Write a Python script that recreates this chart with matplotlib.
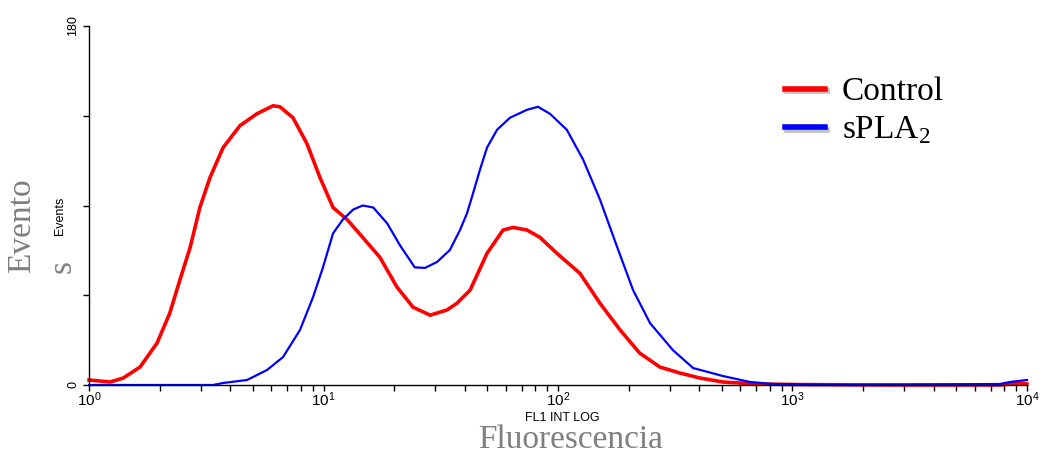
import numpy as np
import matplotlib
matplotlib.use("Agg")
import matplotlib.pyplot as plt
import matplotlib.patheffects as pe
from matplotlib.ticker import FixedLocator, NullFormatter

plt.rcParams['mathtext.fontset'] = 'custom'
plt.rcParams['mathtext.rm'] = 'Liberation Serif'
plt.rcParams['mathtext.sf'] = 'Liberation Sans'

# Control histogram (FL1 channel value, events)
control_x = [1.0, 1.23, 1.40, 1.65, 1.95, 2.21, 2.44, 2.70, 2.97, 3.28, 3.73, 4.40,
             5.20, 6.09, 6.52, 7.41, 8.50, 9.66, 10.98, 12.6, 14.7, 17.4, 20.6, 24.1,
             28.5, 33.6, 37.1, 42.2, 49.8, 58.3, 64.3, 73.8, 83.8, 99.0, 124, 151, 184,
             223, 272, 331, 403, 505, 706, 1077, 2870, 7670, 8470, 9340, 10000]
control_y = [2.5, 1.5, 3.5, 9, 21, 36, 52.6, 69, 89, 104, 119, 130,
             136, 140, 139.5, 134, 121, 104, 89, 83, 74, 64, 49, 39,
             35, 37.6, 41, 47.6, 66, 77.7, 79, 77.7, 74, 66, 56, 41, 27.6,
             16, 9, 6, 3.5, 1.5, 0.5, 0.2, 0, 0, 0.5, 1, 0.5]

# sPLA2 histogram
spla_x = [1.0, 3.38, 3.73, 4.72, 5.74, 6.72, 7.94, 9.02, 9.95, 10.98, 12.1, 13.4,
          14.7, 16.3, 18.7, 21.2, 24.5, 27.1, 30.5, 34.6, 38.2, 40.9, 43.4, 46.5,
          49.8, 55.0, 62.4, 73.8, 82.2, 92.4, 109, 128, 151, 179, 209, 247, 309,
          377, 505, 659, 826, 1760, 7670, 8470, 9160, 10000]
spla_y = [0, 0, 1, 2.5, 7.5, 14, 27.6, 44, 59, 76, 83, 88,
          90, 89, 81, 70, 59, 58.7, 61.7, 67.7, 77.7, 86, 96, 108,
          119, 128, 134, 138, 139.5, 136, 128, 113, 93, 69, 47.6, 31, 17.5,
          8.5, 4.5, 1.5, 0.5, 0, 0.5, 1.5, 2, 2.5]

labels = ['Control', r'sPLA$_2$']
xtick_vals = [1, 10, 100, 1000, 10000]
xtick_labels = [r'$\mathsf{10^{0}}$', r'$\mathsf{10^{1}}$', r'$\mathsf{10^{2}}$',
                r'$\mathsf{10^{3}}$', r'$\mathsf{10^{4}}$']
ytick_vals = [0, 45, 90, 135, 180]
ytick_labels = ['0', '', '', '', '180']

fig = plt.figure(figsize=(10.46, 4.54), dpi=100)
ax = fig.add_axes([0.0851, 0.152, 0.8967, 0.7907])

shadow = [pe.SimpleLineShadow(offset=(1.5, -2), shadow_color='gray', alpha=0.5), pe.Normal()]
ax.plot(control_x, control_y, color='#ff0000', lw=2.6, clip_on=False, label=labels[0])
ax.plot(spla_x, spla_y, color='#0000ff', lw=1.6, clip_on=False, label=labels[1])

ax.set_xscale('log')
ax.set_xlim(1, 10000)
ax.set_ylim(0, 180)

for s in ['top', 'right']:
    ax.spines[s].set_visible(False)
for s in ['left', 'bottom']:
    ax.spines[s].set_linewidth(1.0)

ax.xaxis.set_major_locator(FixedLocator(xtick_vals))
ax.set_xticklabels(xtick_labels)
ax.xaxis.set_minor_locator(FixedLocator([m * d for d in [1, 10, 100, 1000] for m in range(2, 10)]))
ax.xaxis.set_minor_formatter(NullFormatter())
ax.tick_params(axis='x', which='both', direction='out', length=4, width=1, labelsize=11, pad=0)
ax.set_yticks(ytick_vals)
ax.set_yticklabels(ytick_labels, rotation=90, va='center', family='Liberation Sans', fontsize=9)
ax.tick_params(axis='y', direction='out', length=4, width=1, pad=3)

fig.text(0.0575, 0.525, 'Events', rotation=90, ha='center', va='center',
         family='Liberation Sans', fontsize=9)
fig.text(0.5375, 0.079, 'FL1 INT LOG', ha='center', va='center',
         family='Liberation Sans', fontsize=9)
fig.text(0.545, 0.032, 'Fluorescencia', ha='center', va='center',
         family='Liberation Serif', fontsize=24, color='#7f7f7f')
fig.text(0.021, 0.398, 'Evento', rotation=90, ha='center', va='bottom',
         family='Liberation Serif', fontsize=24, color='#7f7f7f')
fig.text(0.06, 0.398, 's', rotation=90, ha='center', va='bottom',
         family='Liberation Serif', fontsize=24, color='#7f7f7f')

leg = ax.legend(loc='upper left', bbox_to_anchor=(0.722, 0.897), bbox_transform=fig.transFigure,
                frameon=False, handlelength=1.2, handletextpad=0.5, labelspacing=0.22,
                prop={'family': 'Liberation Serif', 'size': 24})
for h in leg.get_lines():
    h.set_linewidth(4)
    h.set_path_effects(shadow)

fig.savefig('out.png', dpi=100)
